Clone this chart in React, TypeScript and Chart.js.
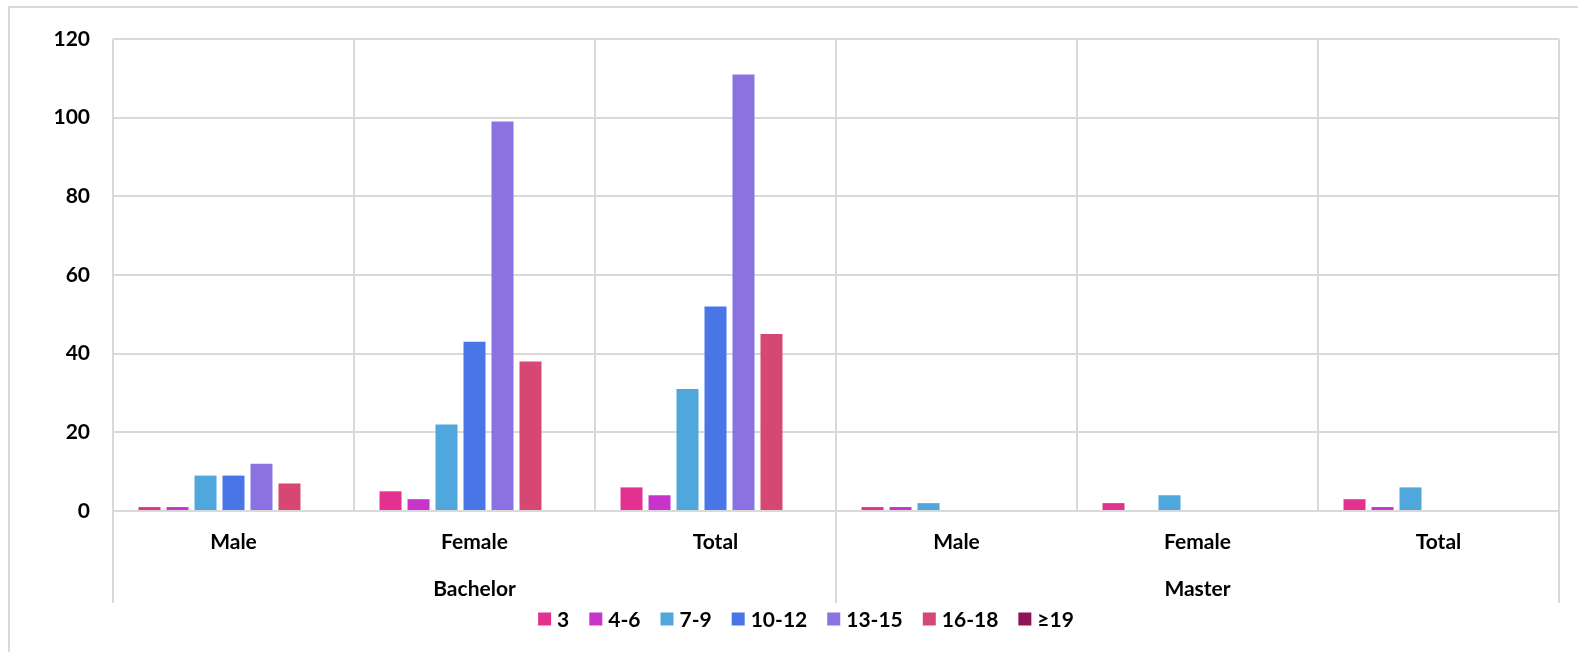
import React, { useEffect, useRef } from "react";
import { Chart, registerables } from "chart.js";

Chart.register(...registerables);

const categories = ["Male", "Female", "Total", "Male", "Female", "Total"];
const groupLabels = ["Bachelor", "Master"];
const seriesLabels = ["3", "4-6", "7-9", "10-12", "13-15", "16-18", "≥19"];
const s3 = [1, 5, 6, 1, 2, 3];
const s4to6 = [1, 3, 4, 1, 0, 1];
const s7to9 = [9, 22, 31, 2, 4, 6];
const s10to12 = [9, 43, 52, 0, 0, 0];
const s13to15 = [12, 99, 111, 0, 0, 0];
const s16to18 = [7, 38, 45, 0, 0, 0];
const s19plus = [0, 0, 0, 0, 0, 0];
const yMin = 0;
const yMax = 120;
const yStep = 20;
const seriesColors = ["#E3318F", "#C833CB", "#4FA7DC", "#4876E6", "#8A73E0", "#D64873", "#8E1458"];

const FONT = "Lato, 'Open Sans', sans-serif";
const FSIZE = 21;
const GRID = "#d9d9d9";

const extrasPlugin = {
  id: "extras",
  beforeDraw(chart: any) {
    const ctx = chart.ctx;
    ctx.save();
    ctx.fillStyle = GRID;
    ctx.fillRect(8, 6, chart.width - 8, 2);
    ctx.fillRect(8, 6, 2, chart.height - 6);
    ctx.restore();
  },
  afterDraw(chart: any) {
    const ctx = chart.ctx;
    const x = chart.scales.x;
    const area = chart.chartArea;
    ctx.save();
    const sepX = [
      area.left,
      (x.getPixelForValue(2) + x.getPixelForValue(3)) / 2,
      area.right,
    ];
    ctx.strokeStyle = GRID;
    ctx.lineWidth = 2;
    sepX.forEach((sx) => {
      ctx.beginPath();
      ctx.moveTo(sx, area.bottom);
      ctx.lineTo(sx, 603);
      ctx.stroke();
    });
    ctx.fillStyle = "#000";
    ctx.font = `bold ${FSIZE}px ${FONT}`;
    ctx.textAlign = "center";
    ctx.textBaseline = "middle";
    ctx.fillText(groupLabels[0], x.getPixelForValue(1), 589);
    ctx.fillText(groupLabels[1], x.getPixelForValue(4), 589);
    const box = 13;
    const gap = 6;
    const spacing = 20;
    const widths = seriesLabels.map((l) => box + gap + ctx.measureText(l).width);
    const total = widths.reduce((a, b) => a + b, 0) + spacing * (widths.length - 1);
    let lx = 806 - total / 2;
    const ly = 619;
    ctx.textAlign = "left";
    seriesLabels.forEach((l, i) => {
      ctx.fillStyle = seriesColors[i];
      ctx.fillRect(lx, ly - box / 2, box, box);
      ctx.fillStyle = "#000";
      ctx.fillText(l, lx + box + gap, ly + 1);
      lx += widths[i] + spacing;
    });
    ctx.restore();
  },
};

export default function App() {
  const ref = useRef<HTMLCanvasElement>(null);
  useEffect(() => {
    if (!ref.current) return;
    const series = [s3, s4to6, s7to9, s10to12, s13to15, s16to18, s19plus];
    const chart = new Chart(ref.current, {
      type: "bar",
      data: {
        labels: categories,
        datasets: series.map((d, i) => ({
          label: seriesLabels[i],
          data: d,
          backgroundColor: seriesColors[i],
          borderWidth: 0,
          categoryPercentage: 0.813,
          barPercentage: 0.786,
        })),
      },
      options: {
        responsive: false,
        animation: false,
        devicePixelRatio: 1,
        layout: { padding: { left: 0, top: 39, right: 19, bottom: 0 } },
        plugins: { legend: { display: false }, tooltip: { enabled: false } },
        scales: {
          x: {
            grid: { color: GRID, lineWidth: 2, drawTicks: false, offset: true },
            border: { display: false },
            ticks: { color: "#000", font: { family: FONT, size: FSIZE, weight: "bold" }, padding: 19 },
            afterFit: (s: any) => { s.height = 141; },
          },
          y: {
            min: yMin,
            max: yMax,
            grid: { color: GRID, lineWidth: 2, drawTicks: false },
            border: { display: false },
            ticks: { stepSize: yStep, color: "#000", font: { family: FONT, size: FSIZE, weight: "bold" }, padding: 23 },
            afterFit: (s: any) => { s.width = 113; },
          },
        },
      },
      plugins: [extrasPlugin],
    });
    if ((document as any).fonts) {
      (document as any).fonts.load(`bold ${FSIZE}px Lato`).then(() => chart.update());
    }
    return () => chart.destroy();
  }, []);
  return (
    <div style={{ position: "absolute", left: 0, top: 0, width: 1578, height: 652, background: "#fff" }}>
      <canvas ref={ref} width={1578} height={652} style={{ display: "block" }} />
    </div>
  );
}
